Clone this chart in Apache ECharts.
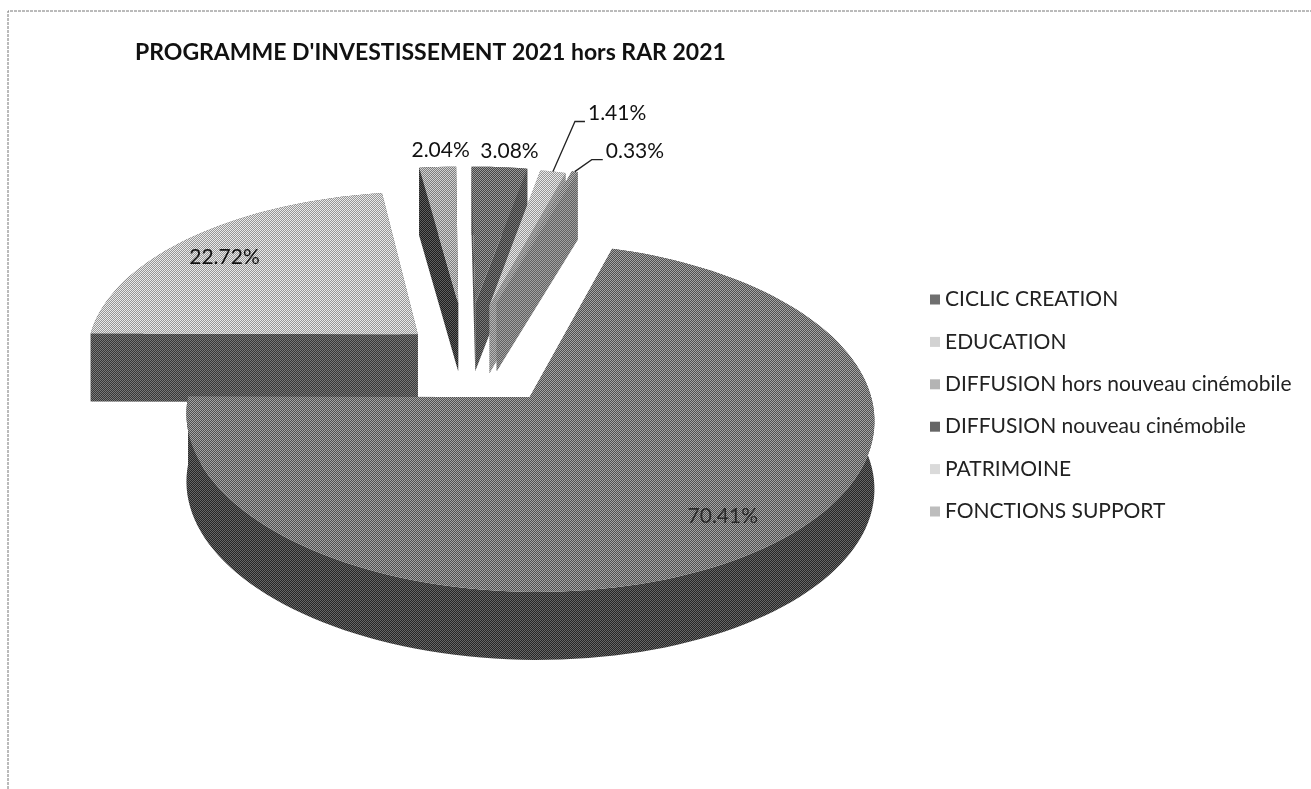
<!DOCTYPE html>
<html><head><meta charset="utf-8">
<style>html,body{margin:0;padding:0;background:#fff}#c{width:1311px;height:789px}</style>
<script src="https://cdn.jsdelivr.net/npm/echarts@6/dist/echarts.min.js"></script>
</head><body><div id="c"></div>
<script>
const categories = ['CICLIC CREATION','EDUCATION','DIFFUSION hors nouveau cinémobile','DIFFUSION nouveau cinémobile','PATRIMOINE','FONCTIONS SUPPORT'];
const values = [70.41,22.72,2.04,3.08,1.41,0.33];
const explode = [104,65,110,110,108,114];
const topGray = [122,192,168,112,192,142];
const wallGray = [70,88,62,88,150,128];
const legendGray = ['#6f6f6f','#d2d2d2','#b4b4b4','#666666','#dadada','#bdbdbd'];
const zOrder = [6,5,1,2,3,4];
const labelOffset = [[-37,-34],[33,20],[3,-17],[10,-16],[0,0],[0,0]];
const labelColor = ['#2a2a2a','#111','#111','#111','#111','#111'];
const leader = [null,null,null,null,[[22,-50],[32,-50]],[[17,-12],[28,-12]]];
const G = {cx:466,cy:355,R:332,k:0.49,p:0.112,h:68,start:16.8};
const total = values.reduce((a,b)=>a+b,0);

function pattern(g, amp){
  const b=[[0,32,8,40,2,34,10,42],[48,16,56,24,50,18,58,26],[12,44,4,36,14,46,6,38],[60,28,52,20,62,30,54,22],
           [3,35,11,43,1,33,9,41],[51,19,59,27,49,17,57,25],[15,47,7,39,13,45,5,37],[63,31,55,23,61,29,53,21]];
  const c=document.createElement('canvas');c.width=24;c.height=24;
  const x=c.getContext('2d');
  for(let j=0;j<24;j++)for(let i=0;i<24;i++){
    const t=(b[j%8][i%8]+0.5)/64;
    const v=t<0.5?Math.min(255,g+amp):Math.max(0,g-amp);
    x.fillStyle='rgb('+v+','+v+','+v+')';x.fillRect(i,j,1,1);
  }
  return {image:c,repeat:'repeat'};
}
const topFill = topGray.map(g=>pattern(g,42));
const wallFill = wallGray.map(g=>pattern(g,32));

function proj(X,Y,dz){
  const s=1/(1+G.p*Y/G.R);
  return [G.cx+X*s, G.cy-Y*G.k*s+(dz||0)];
}
function renderSlice(idx){
  return function(params,api){
    const v=api.value(0);
    let before=0;for(let i=0;i<idx;i++)before+=values[i];
    const a0=G.start+before/total*360, a1=a0+v/total*360, mid=(a0+a1)/2, rad=d=>d*Math.PI/180;
    const ex=explode[idx]*Math.sin(rad(mid)), ey=explode[idx]*Math.cos(rad(mid));
    const n=Math.max(2,Math.ceil((a1-a0)/2));
    const arc=[],arcB=[];
    for(let i=0;i<=n;i++){
      const a=rad(a0+(a1-a0)*i/n),X=ex+G.R*Math.sin(a),Y=ey+G.R*Math.cos(a);
      arc.push(proj(X,Y));arcB.push(proj(X,Y,G.h));
    }
    const A=proj(ex,ey),AB=proj(ex,ey,G.h);
    const tf=topFill[idx],wf=wallFill[idx];
    const poly=(pts,fill)=>({type:'polygon',shape:{points:pts},style:{fill:fill,stroke:null}});
    const children=[
      poly([A,arc[0],arcB[0],AB],wf),
      poly([A,arc[n],arcB[n],AB],wf),
      poly(arc.concat(arcB.slice().reverse()),wf),
      poly([A].concat(arc),tf)
    ];
    const om=proj(ex+G.R*Math.sin(rad(mid)),ey+G.R*Math.cos(rad(mid)));
    const off=labelOffset[idx];
    const lx=om[0]+off[0],ly=om[1]+off[1];
    const font='21px Lato';
    if(leader[idx]){
      const pts=[om].concat(leader[idx].map(o=>[om[0]+o[0],om[1]+o[1]]));
      children.push({type:'polyline',shape:{points:pts},style:{stroke:'#222',lineWidth:1.3,fill:null}});
      const last=pts[pts.length-1];
      children.push({type:'text',x:last[0]+3,y:last[1]-8,style:{text:v.toFixed(2)+'%',font:font,fill:labelColor[idx],textAlign:'left',textVerticalAlign:'middle'}});
    } else {
      children.push({type:'text',x:lx,y:ly,style:{text:v.toFixed(2)+'%',font:font,fill:labelColor[idx],textAlign:'center',textVerticalAlign:'middle'}});
    }
    return {type:'group',children:children};
  };
}
const chart=echarts.init(document.getElementById('c'),null,{renderer:'canvas'});
chart.setOption({
  animation:false,
  backgroundColor:'#ffffff',
  title:{text:"PROGRAMME D'INVESTISSEMENT 2021 hors RAR 2021",left:130,top:36,textStyle:{fontFamily:'Lato',fontSize:23,fontWeight:'bold',color:'#111'}},
  legend:{orient:'vertical',left:925,top:284,itemWidth:10,itemHeight:10,itemGap:21.4,icon:'rect',
    textStyle:{fontFamily:'Lato',fontSize:21,color:'#222'},
    data:categories.map((c,i)=>({name:c,itemStyle:{color:legendGray[i]}}))},
  graphic:[
    {type:'polyline',z:0,shape:{points:[[8,789],[8,11],[1311,11]]},style:{stroke:'#777',lineWidth:1,lineDash:[3,1],fill:null}}
  ],
  series:categories.map((c,i)=>({
    type:'custom',name:c,coordinateSystem:'none',z:zOrder[i],
    itemStyle:{color:legendGray[i]},
    data:[[values[i]]],
    renderItem:renderSlice(i)
  }))
});
</script></body></html>
